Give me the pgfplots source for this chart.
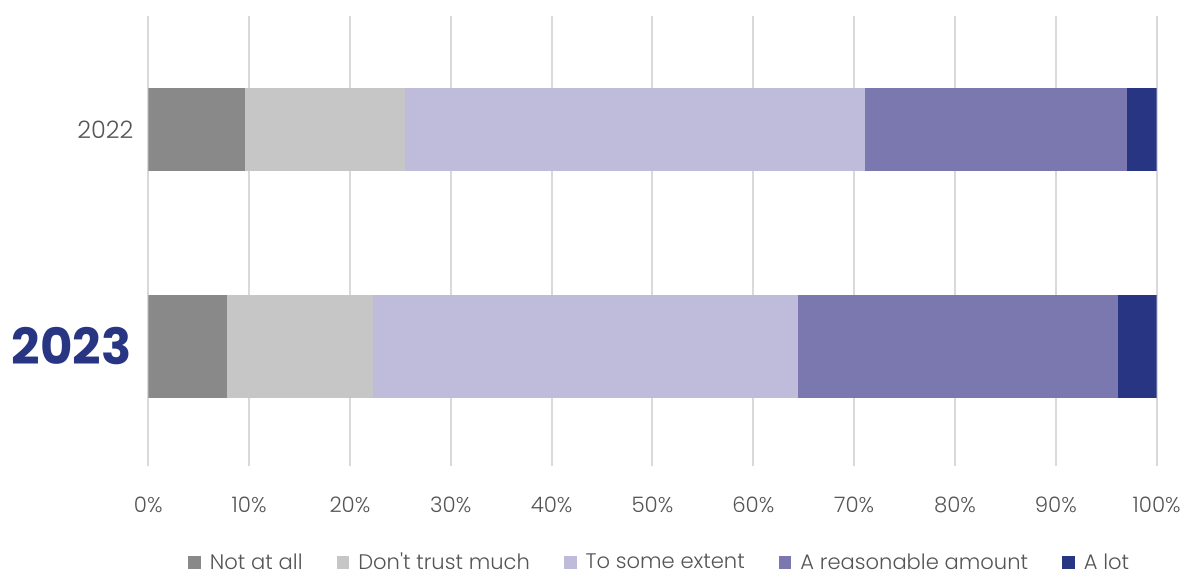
\documentclass[border=0pt]{standalone}
\usepackage{pgfplots}
\pgfplotsset{compat=1.18}
\usepackage{fontspec}
\setmainfont{Poppins}[UprightFont=* Light, BoldFont=* Bold]
\definecolor{c1}{HTML}{898989}
\definecolor{c2}{HTML}{C6C6C6}
\definecolor{c3}{HTML}{BEBBDB}
\definecolor{c4}{HTML}{7B77AF}
\definecolor{c5}{HTML}{283583}
\definecolor{tc}{HTML}{555555}
\definecolor{gc}{HTML}{D9D9D9}
\begin{document}
\begin{tikzpicture}
\pgfplotsset{common/.style={
  at={(0pt,0pt)}, anchor=south west, scale only axis,
  width=756.3pt, height=337.5pt,
  xmin=0, xmax=100, ymin=-0.551, ymax=1.523,
  xbar stacked,
}}
\begin{axis}[common, name=main,
  bar width=61.8pt,
  /pgf/number format/assume math mode=true,
  axis line style={draw=none},
  major tick length=0pt,
  xmajorgrids, grid style={color=gc, line width=1.5pt},
  xtick={0,10,...,100},
  xticklabels={0\%,10\%,20\%,30\%,40\%,50\%,60\%,70\%,80\%,90\%,100\%},
  xticklabel style={font=\fontsize{16}{18}\selectfont, text=tc, anchor=north, inner sep=0pt, yshift=-23pt},
  ytick={0,1},
  yticklabels={{\fontsize{37.4}{40}\selectfont\bfseries\color{c5}2023\kern1.5pt},{\fontsize{18}{20}\selectfont 2022}},
  yticklabel style={text=tc, anchor=east, inner sep=0pt, xshift=-11pt},
  legend columns=-1,
  legend style={at={(0.5,0)}, anchor=center, yshift=-72.4pt, xshift=4.7pt, draw=none,
    font=\fontsize{15.8}{18}\selectfont, text=tc,
    nodes={inner sep=0pt},
    /tikz/every odd column/.append style={column sep=6.75pt},
    /tikz/every even column/.append style={column sep=25.5pt}},
  legend image code/.code={\fill[#1,draw=none] (0pt,-4.75pt) rectangle (9.5pt,4.75pt);},
]
\addplot[fill=c1,draw=none] coordinates {(9.6,1)};
\addplot[fill=c2,draw=none] coordinates {(15.9,1)};
\addplot[fill=c3,draw=none] coordinates {(45.6,1)};
\addplot[fill=c4,draw=none] coordinates {(26.0,1)};
\addplot[fill=c5,draw=none] coordinates {(2.9,1)};
\legend{Not at all, Don\textquotesingle t trust much, To some extent, A reasonable amount, A lot}
\end{axis}
\begin{axis}[common, hide axis, bar width=76.8pt]
\addplot[fill=c1,draw=none] coordinates {(7.8,0)};
\addplot[fill=c2,draw=none] coordinates {(14.5,0)};
\addplot[fill=c3,draw=none] coordinates {(42.1,0)};
\addplot[fill=c4,draw=none] coordinates {(31.8,0)};
\addplot[fill=c5,draw=none] coordinates {(3.8,0)};
\end{axis}
\pgfresetboundingbox
\path (-111.2pt,-81pt) rectangle (784.3pt,349.5pt);
\end{tikzpicture}
\end{document}
